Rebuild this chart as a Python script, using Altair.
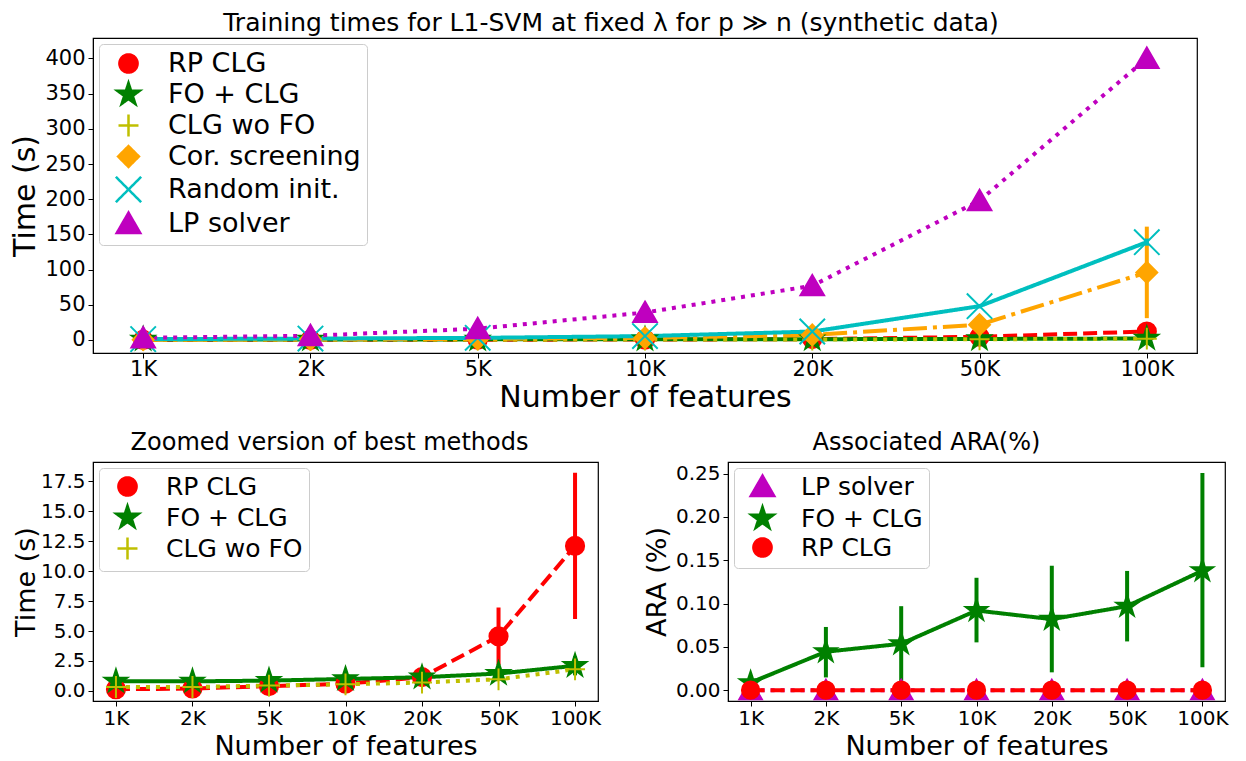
import altair as alt
import pandas as pd
import numpy as np

features = ["1K", "2K", "5K", "10K", "20K", "50K", "100K"]

# ---- Training times (s) ----
rp_time = [0.14, 0.2, 0.4, 0.6, 1.15, 4.56, 12.1]
rp_time_err = [0.05, 0.05, 0.08, 0.1, 0.2, 2.4, 6.1]
fo_time = [0.8, 0.8, 0.86, 1.0, 1.14, 1.45, 2.1]
fo_time_err = [0.05, 0.05, 0.05, 0.08, 0.1, 0.15, 0.8]
clg_time = [0.33, 0.33, 0.45, 0.55, 0.7, 0.97, 1.8]
clg_time_err = [0.03, 0.03, 0.04, 0.05, 0.06, 0.08, 0.15]
cor_time = [0.5, 1.0, 1.5, 3.0, 7.2, 21.7, 96.0]
cor_time_err = [0.2, 0.3, 0.5, 1.0, 2.0, 6.0, 65.0]
rand_time = [1.2, 2.0, 3.0, 5.5, 12.0, 48.0, 139.0]
rand_time_err = [0.2, 0.3, 0.5, 0.8, 1.5, 3.0, 5.0]
lp_time = [3.0, 6.0, 16.0, 39.0, 77.0, 198.0, 400.0]
lp_time_err = [0.3, 0.5, 1.0, 2.0, 3.0, 5.0, 8.0]

# ---- ARA (%) ----
fo_ara = [0.0087, 0.0444, 0.0536, 0.092, 0.082, 0.097, 0.138]
fo_ara_lo = [0.005, 0.0147, 0.0096, 0.0552, 0.0206, 0.0563, 0.0266]
fo_ara_hi = [0.0125, 0.073, 0.097, 0.1298, 0.1437, 0.1377, 0.2508]
lp_ara = [0.0, 0.0, 0.0, 0.0, 0.0, 0.0, 0.0]
rp_ara = [0.0, 0.0, 0.0, 0.0, 0.0, 0.0, 0.0]

FONT = "DejaVu Sans"


def star_path(R=1.3, ratio=0.382):
    pts = []
    for k in range(10):
        ang = -np.pi / 2 + k * np.pi / 5
        r = R if k % 2 == 0 else R * ratio
        pts.append(f"{r*np.cos(ang):.3f},{r*np.sin(ang):.3f}")
    return "M" + "L".join(pts) + "Z"


STYLE = {
    "RP CLG": dict(color="#ff0000", dash=[14, 6], shape="circle"),
    "FO + CLG": dict(color="#008000", dash=[1, 0], shape=star_path()),
    "CLG wo FO": dict(color="#bfbf00", dash=[4, 6], shape="M-1.1,0L1.1,0M0,-1.2L0,1.2"),
    "Cor. screening": dict(color="#ffa500", dash=[24, 6, 4, 6], shape="M0,-1.15L1.15,0L0,1.15L-1.15,0Z"),
    "Random init.": dict(color="#00bfbf", dash=[1, 0], shape="M-1.4,-1.4L1.4,1.4M-1.4,1.4L1.4,-1.4"),
    "LP solver": dict(color="#bf00bf", dash=[4, 6], shape="M0,-1.2L1.3,1.05L-1.3,1.05Z"),
}


def make_df(names, vals, los, his):
    rows = []
    for k, (n, v, lo, hi) in enumerate(zip(names, vals, los, his)):
        for i, f in enumerate(features):
            rows.append(dict(features=f, series=n, value=v[i], lo=lo[i], hi=hi[i], order=k))
    return pd.DataFrame(rows)


def sym(vals, errs):
    return [v - e for v, e in zip(vals, errs)], [v + e for v, e in zip(vals, errs)]


def panel(df, names, width, height, ydomain, yticks, yfmt, title, title_size, title_dx, title_off, ytitle,
          leg_font, lab_font, ttl_font, msize, ytp, xlp, xtp):
    cscale = alt.Scale(domain=names, range=[STYLE[n]["color"] for n in names])
    shscale = alt.Scale(domain=names, range=[STYLE[n]["shape"] for n in names])
    legend = alt.Legend(
        title=None, orient="top-left", offset=6, fillColor="white", strokeColor="#cccccc",
        cornerRadius=4, padding=6, labelFontSize=leg_font, labelFont=FONT, labelColor="black",
        symbolSize=330, symbolStrokeWidth=2.5, rowPadding=-1, labelLimit=500, symbolOpacity=1,
        labelOffset=26, symbolOffset=10, symbolDash=[1, 0],
    )
    x = alt.X(
        "features:N", sort=features, scale=alt.Scale(type="point", padding=0.3),
        axis=alt.Axis(title="Number of features", labelAngle=0, labelFontSize=lab_font,
                      titleFontSize=ttl_font, labelPadding=xlp, titlePadding=xtp),
    )
    ys = alt.Scale(domain=ydomain, nice=False, zero=False)
    yax = alt.Axis(title=ytitle, values=yticks, format=yfmt, labelFontSize=lab_font,
                   titleFontSize=ttl_font, labelPadding=3, titlePadding=ytp)
    color = alt.Color("series:N", scale=cscale, legend=legend)
    base = alt.Chart(df)
    layers = [
        base.mark_rule(strokeWidth=4).encode(
            x=x, y=alt.Y("lo:Q", scale=ys, axis=yax), y2="hi:Q", color=color,
        )
    ]
    for n in names:
        layers.append(
            base.transform_filter(alt.datum.series == n)
            .mark_line(strokeWidth=4, strokeDash=STYLE[n]["dash"])
            .encode(x=x, y=alt.Y("value:Q", scale=ys, axis=yax), color=color)
        )
    layers.append(
        base.mark_point(filled=True, size=msize, opacity=1, strokeWidth=2).encode(
            x=x, y=alt.Y("value:Q", scale=ys, axis=yax),
            color=color,
            stroke=alt.Stroke("series:N", scale=cscale, legend=legend),
            shape=alt.Shape("series:N", scale=shscale, legend=legend),
            order="order:Q",
        )
    )
    return alt.layer(*layers).properties(
        width=width, height=height,
        title=alt.Title(title, fontSize=title_size, font=FONT, fontWeight="normal", color="black",
                        offset=title_off, dx=title_dx),
    )


top_names = ["RP CLG", "FO + CLG", "CLG wo FO", "Cor. screening", "Random init.", "LP solver"]
top_vals = [rp_time, fo_time, clg_time, cor_time, rand_time, lp_time]
top_errs = [rp_time_err, fo_time_err, clg_time_err, cor_time_err, rand_time_err, lp_time_err]
top_lo, top_hi = zip(*[sym(v, e) for v, e in zip(top_vals, top_errs)])
df_top = make_df(top_names, top_vals, top_lo, top_hi)

bl_names = ["RP CLG", "FO + CLG", "CLG wo FO"]
bl_vals = [rp_time, fo_time, clg_time]
bl_errs = [rp_time_err, fo_time_err, clg_time_err]
bl_lo, bl_hi = zip(*[sym(v, e) for v, e in zip(bl_vals, bl_errs)])
df_bl = make_df(bl_names, bl_vals, bl_lo, bl_hi)

br_names = ["LP solver", "FO + CLG", "RP CLG"]
df_br = make_df(br_names, [lp_ara, fo_ara, rp_ara], [lp_ara, fo_ara_lo, rp_ara], [lp_ara, fo_ara_hi, rp_ara])

top = panel(df_top, top_names, 1104, 315, [-18.5, 429], [0, 50, 100, 150, 200, 250, 300, 350, 400], "d",
            "Training times for L1-SVM at fixed λ for p ≫ n  (synthetic data)", 25, -34, 2, "Time (s)",
            27, 21, 30, 330, 4, 0, 3)
bl = panel(df_bl, bl_names, 505, 239, [-0.84, 19.1], [0, 2.5, 5, 7.5, 10, 12.5, 15, 17.5], ".1f",
           "Zoomed version of best methods", 24, -16, 7, "Time (s)", 25, 20, 27, 330, 0, 2, 5)
br = panel(df_br, br_names, 497, 239, [-0.0125, 0.2635], [0, 0.05, 0.1, 0.15, 0.2, 0.25], ".2f",
           "Associated ARA(%)", 24, -50, 7, "ARA (%)", 25, 20, 27, 300, 4, 2, 5)

res = dict(color="independent", shape="independent", stroke="independent")
chart = alt.vconcat(
    top,
    alt.hconcat(bl, br, spacing=40).resolve_scale(**res),
    spacing=17,
).resolve_scale(**res).properties(
    padding={"left": 2, "top": 2, "right": 2, "bottom": 0}
).configure_view(
    stroke="black", strokeWidth=1.2
).configure_axis(
    labelFont=FONT, titleFont=FONT, titleFontWeight="normal",
    labelColor="black", titleColor="black", domainColor="black", tickColor="black",
    grid=False, tickSize=5,
)

chart.save("out.html", embed_options={"renderer": "svg", "actions": False})
